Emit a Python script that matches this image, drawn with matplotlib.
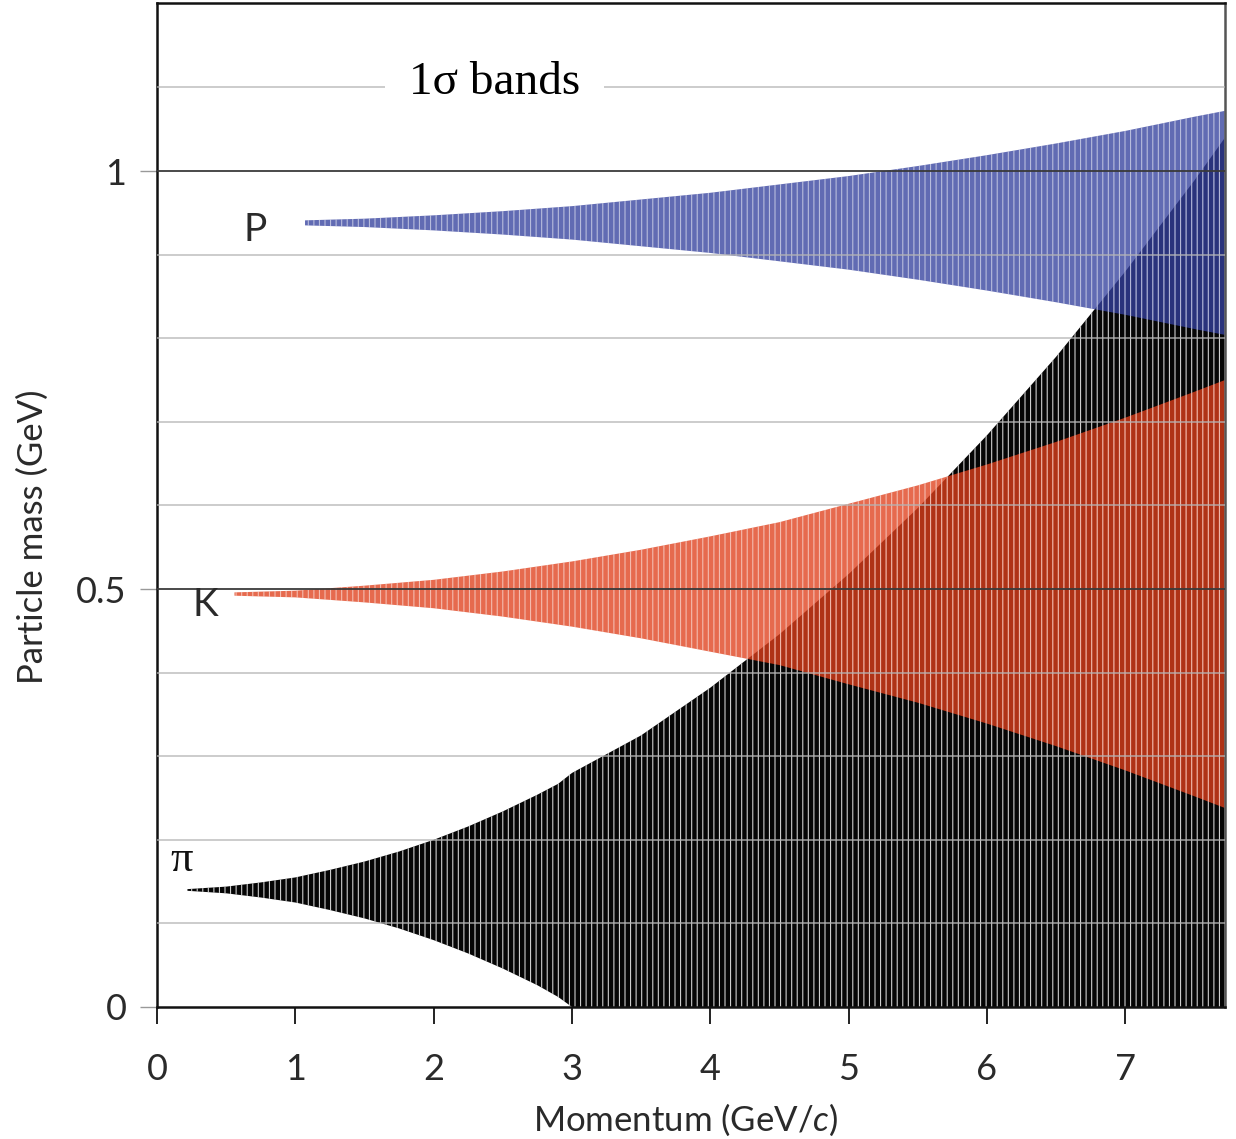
import matplotlib
matplotlib.use("Agg")
import matplotlib.pyplot as plt
from matplotlib.colors import to_rgba

# ---------------- data ----------------
pion_p     = [0.22, 0.5, 0.75, 1.0, 1.25, 1.5, 1.75, 2.0, 2.25, 2.5, 2.75, 2.9, 3.0, 3.5, 4.0, 4.5, 5.0, 5.5, 6.0, 6.5, 7.0, 7.5, 7.72]
pion_lo    = [0.139, 0.136, 0.131, 0.125, 0.116, 0.106, 0.094, 0.080, 0.064, 0.046, 0.026, 0.012, 0.0, 0.0, 0.0, 0.0, 0.0, 0.0, 0.0, 0.0, 0.0, 0.0, 0.0]
pion_hi    = [0.141, 0.144, 0.149, 0.155, 0.164, 0.174, 0.186, 0.200, 0.216, 0.234, 0.254, 0.267, 0.280, 0.325, 0.382, 0.446, 0.518, 0.597, 0.684, 0.778, 0.880, 0.989, 1.040]

kaon_p     = [0.56, 1.0, 1.5, 2.0, 2.5, 3.0, 3.5, 4.0, 4.5, 5.0, 5.5, 6.0, 6.5, 7.0, 7.5, 7.72]
kaon_lo    = [0.492, 0.490, 0.484, 0.477, 0.467, 0.455, 0.441, 0.425, 0.409, 0.386, 0.364, 0.339, 0.312, 0.283, 0.252, 0.238]
kaon_hi    = [0.496, 0.498, 0.504, 0.511, 0.521, 0.533, 0.547, 0.563, 0.580, 0.602, 0.624, 0.649, 0.676, 0.705, 0.736, 0.750]

proton_p   = [1.07, 1.5, 2.0, 2.5, 3.0, 3.5, 4.0, 4.5, 5.0, 5.5, 6.0, 6.5, 7.0, 7.5, 7.72]
proton_lo  = [0.935, 0.933, 0.929, 0.924, 0.918, 0.910, 0.902, 0.892, 0.882, 0.870, 0.857, 0.843, 0.828, 0.811, 0.804]
proton_hi  = [0.941, 0.943, 0.947, 0.952, 0.958, 0.966, 0.974, 0.984, 0.994, 1.006, 1.019, 1.033, 1.048, 1.065, 1.072]

x_ticks = [0, 1, 2, 3, 4, 5, 6, 7]
x_tick_labels = ["0", "1", "2", "3", "4", "5", "6", "7"]
y_ticks = [0, 0.5, 1.0]
y_tick_labels = ["0", "0.5", "1"]
minor_grid = [0.1, 0.2, 0.3, 0.4, 0.6, 0.7, 0.8, 0.9, 1.1]
major_grid = [0.5, 1.0]

# ---------------- style ----------------
plt.rcParams["hatch.linewidth"] = 0.8
plt.rcParams["hatch.color"] = "white"
plt.rcParams["mathtext.fontset"] = "custom"
plt.rcParams["mathtext.it"] = "Lato:italic"
plt.rcParams["mathtext.rm"] = "Lato"
hand = dict(family=["Lato", "DejaVu Sans"], weight="normal")
txt_color = "#2a2a2a"

fig = plt.figure(figsize=(12.36, 11.39), dpi=100)
W, H = 1236, 1139
ax = fig.add_axes([157 / W, (H - 1007) / H, (1225 - 157) / W, (1007 - 3) / H])
ax.set_xlim(0, 7.72)
ax.set_ylim(0, 1.201)

# bands
ax.fill_between(pion_p, pion_lo, pion_hi, facecolor=to_rgba("#050505", 1.0),
                edgecolor=(1, 1, 1, 0.8), hatch="|||", linewidth=0, zorder=2)
ax.fill_between(kaon_p, kaon_lo, kaon_hi, facecolor=to_rgba("#e0401c", 0.78),
                edgecolor=(1, 1, 1, 0.55), hatch="|||", linewidth=0, zorder=2.2)
ax.fill_between(proton_p, proton_lo, proton_hi, facecolor=to_rgba("#35419e", 0.78),
                edgecolor=(1, 1, 1, 0.55), hatch="|||", linewidth=0, zorder=2.4)

# grid lines (on top of the bands)
for g in minor_grid:
    ax.axhline(g, color="#b4b4b4", lw=1.2, alpha=0.8, zorder=3)
for g in major_grid:
    ax.axhline(g, color="#3a3a3a", lw=1.3, zorder=3)

# ticks
ax.set_xticks(x_ticks)
ax.set_xticklabels(x_tick_labels, fontsize=26, color=txt_color, **hand)
ax.set_yticks(y_ticks)
ax.set_yticklabels(y_tick_labels, fontsize=26, color=txt_color, **hand)
ax.tick_params(axis="x", direction="out", length=12, width=1.4, color="#222222", pad=21)
ax.tick_params(axis="y", direction="out", length=12, width=1.0, color="#999999", pad=10)

for side in ["left", "bottom", "top"]:
    ax.spines[side].set_color("#111111")
    ax.spines[side].set_linewidth(1.8)
ax.spines["right"].set_color("#555555")
ax.spines["right"].set_linewidth(1.8)

# particle labels
ax.text(0.71, 0.929, "P", fontsize=28, ha="center", va="center", color=txt_color, **hand)
ax.text(0.35, 0.481, "K", fontsize=28, ha="center", va="center", color=txt_color, **hand)
ax.text(0.18, 0.176, "π", fontsize=32, ha="center", va="center", color="#111111",
        family=["Liberation Serif", "DejaVu Serif"])

# title box
ax.text(2.44, 1.106, "1σ bands", fontsize=34, ha="center", va="center", color="black",
        family=["Liberation Serif", "DejaVu Serif"], zorder=5,
        bbox=dict(boxstyle="square,pad=0.5", facecolor="white", edgecolor="none"))

# axis labels
fig.text(33 / W, 1 - 537 / H, "Particle mass (GeV)", rotation=90, fontsize=25,
         ha="center", va="center", color=txt_color, **hand)
fig.text(686 / W, 1 - 1120 / H, r"Momentum (GeV/$c$)", fontsize=25,
         ha="center", va="center", color=txt_color, **hand)

fig.savefig("out.png", dpi=100, facecolor="white")
